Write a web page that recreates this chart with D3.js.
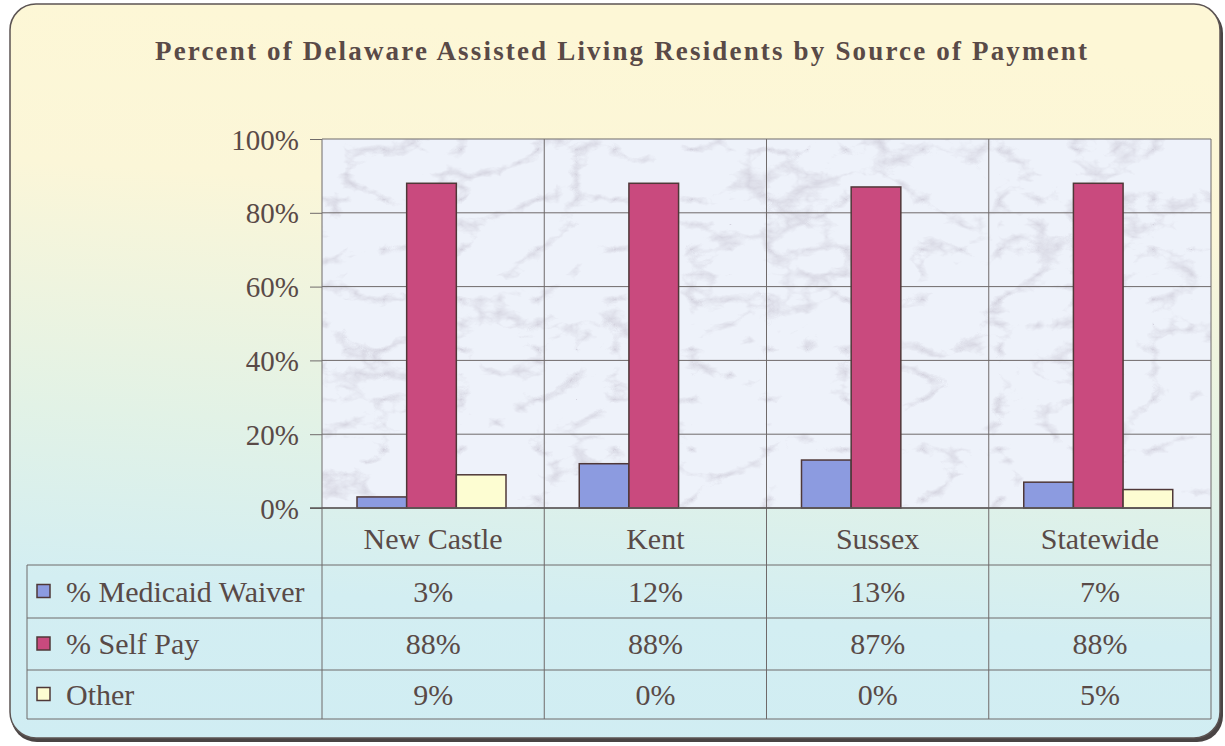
<!DOCTYPE html>
<html>
<head>
<meta charset="utf-8">
<script src="https://cdn.jsdelivr.net/npm/d3@7"></script>
<style>
  html, body { margin: 0; padding: 0; background: #ffffff; }
  svg { display: block; }
  text { font-family: "Liberation Serif", "Times New Roman", serif; fill: #594a47; }
</style>
</head>
<body>
<svg id="chart" width="1225" height="746"></svg>
<script>
// data
var categories = ["New Castle", "Kent", "Sussex", "Statewide"];
var seriesNames = ["% Medicaid Waiver", "% Self Pay", "Other"];
var medicaidWaiver = [3, 12, 13, 7];
var selfPay = [88, 88, 87, 88];
var other = [9, 0, 0, 5];
var yTicks = [0, 20, 40, 60, 80, 100];
var seriesColors = ["#8c9be0", "#c94a7e", "#fdfdd2"];

var seriesValues = [medicaidWaiver, selfPay, other];

var svg = d3.select("#chart"),
    margin = {top: 139, left: 322, right: 1211, bottom: 508};

var defs = svg.append("defs");

var bg = defs.append("linearGradient")
    .attr("id", "bg")
    .attr("x1", 0.1).attr("y1", 0).attr("x2", 0).attr("y2", 1);
bg.append("stop").attr("offset", "0%").attr("stop-color", "#fdf7d6");
bg.append("stop").attr("offset", "22%").attr("stop-color", "#fbf6d8");
bg.append("stop").attr("offset", "55%").attr("stop-color", "#e2f2e6");
bg.append("stop").attr("offset", "78%").attr("stop-color", "#d3eef2");
bg.append("stop").attr("offset", "100%").attr("stop-color", "#d0edf3");

// marble-ish texture for the plot area
var marble = defs.append("filter")
    .attr("id", "marble")
    .attr("x", 0).attr("y", 0).attr("width", "100%").attr("height", "100%");
marble.append("feTurbulence")
    .attr("type", "turbulence")
    .attr("baseFrequency", "0.013 0.02")
    .attr("numOctaves", 5)
    .attr("seed", 11)
    .attr("result", "noise");
marble.append("feColorMatrix")
    .attr("in", "noise")
    .attr("type", "matrix")
    .attr("values", "0 0 0 0 0.55  0 0 0 0 0.53  0 0 0 0 0.62  -2.6 0 0 0 0.62");

// outer frame
svg.append("rect")
    .attr("x", 11).attr("y", 7)
    .attr("width", 1212).attr("height", 735)
    .attr("rx", 26)
    .attr("fill", "#4a4444");
svg.append("rect")
    .attr("x", 10).attr("y", 4)
    .attr("width", 1210).attr("height", 734)
    .attr("rx", 26)
    .attr("fill", "url(#bg)")
    .attr("stroke", "#5c5453")
    .attr("stroke-width", 1.5);

// title
svg.append("text")
    .attr("x", 621).attr("y", 60)
    .attr("text-anchor", "middle")
    .attr("textLength", 932)
    .attr("lengthAdjust", "spacing")
    .style("font-size", "27px")
    .style("font-weight", "bold")
    .text("Percent of Delaware Assisted Living Residents by Source of Payment");

var x = d3.scaleBand()
    .domain(categories)
    .range([margin.left, margin.right]);

var x1 = d3.scaleBand()
    .domain(seriesNames)
    .range([35, 184]);

var y = d3.scaleLinear()
    .domain([0, 100])
    .range([margin.bottom, margin.top]);

// plot background
var pw = margin.right - margin.left, ph = margin.bottom - margin.top;
svg.append("rect")
    .attr("x", margin.left).attr("y", margin.top)
    .attr("width", pw).attr("height", ph)
    .attr("fill", "#eef2fa");
svg.append("rect")
    .attr("x", margin.left).attr("y", margin.top)
    .attr("width", pw).attr("height", ph)
    .attr("filter", "url(#marble)");

// gridlines
svg.append("g")
    .selectAll("line")
    .data(yTicks)
    .enter().append("line")
    .attr("x1", margin.left).attr("x2", margin.right)
    .attr("y1", function(d){ return y(d); })
    .attr("y2", function(d){ return y(d); })
    .attr("stroke", "#6f6a6a")
    .attr("stroke-width", 1);

// y axis
var yAxis = d3.axisLeft(y)
    .tickValues(yTicks)
    .tickSize(12)
    .tickPadding(11)
    .tickFormat(function(d){ return d + "%"; });

var yg = svg.append("g")
    .attr("transform", "translate(" + margin.left + ",0)")
    .call(yAxis);
yg.select(".domain").remove();
yg.selectAll(".tick line").attr("stroke", "#6f6a6a");
yg.selectAll(".tick text")
    .style("font-size", "29px")
    .attr("font-family", null)
    .attr("fill", null)
    .attr("dy", "0.35em");

// table geometry
var tableLeft = 27;
var rowLines = [565, 618, 670, 719];

// vertical lines through plot and table
var vlines = categories.map(function(c){ return x(c); }).concat([margin.right]);
svg.append("g")
    .selectAll("line")
    .data(vlines)
    .enter().append("line")
    .attr("x1", function(d){ return d; })
    .attr("x2", function(d){ return d; })
    .attr("y1", margin.top)
    .attr("y2", rowLines[rowLines.length - 1])
    .attr("stroke", "#6f6a6a");

// bars
var groups = svg.append("g")
    .selectAll("g")
    .data(categories)
    .enter().append("g")
    .attr("transform", function(c){ return "translate(" + x(c) + ",0)"; });

groups.selectAll("rect")
    .data(function(c, i){
        return seriesNames.map(function(s, j){ return {series: s, value: seriesValues[j][i], color: seriesColors[j]}; });
    })
    .enter().filter(function(d){ return d.value > 0; })
    .append("rect")
    .attr("x", function(d){ return x1(d.series); })
    .attr("y", function(d){ return y(d.value); })
    .attr("width", x1.bandwidth())
    .attr("height", function(d){ return y(0) - y(d.value); })
    .attr("fill", function(d){ return d.color; })
    .attr("stroke", "#4f3838")
    .attr("stroke-width", 1.5);

// axis baseline
svg.append("line")
    .attr("x1", margin.left - 12).attr("x2", margin.right)
    .attr("y1", y(0)).attr("y2", y(0))
    .attr("stroke", "#5d5858").attr("stroke-width", 1.5);

// table horizontal lines
svg.append("g")
    .selectAll("line")
    .data(rowLines)
    .enter().append("line")
    .attr("x1", tableLeft).attr("x2", margin.right)
    .attr("y1", function(d){ return d; })
    .attr("y2", function(d){ return d; })
    .attr("stroke", "#6f6a6a");
svg.append("line")
    .attr("x1", tableLeft).attr("x2", tableLeft)
    .attr("y1", rowLines[0]).attr("y2", rowLines[rowLines.length - 1])
    .attr("stroke", "#6f6a6a");

// category labels
svg.append("g")
    .selectAll("text")
    .data(categories)
    .enter().append("text")
    .attr("x", function(c){ return x(c) + x.bandwidth() / 2; })
    .attr("y", 549)
    .attr("text-anchor", "middle")
    .style("font-size", "30px")
    .text(function(c){ return c; });

// table rows
seriesNames.forEach(function(s, j){
    var top = rowLines[j], bottom = rowLines[j + 1];
    var base = (top + bottom) / 2 + 10;
    svg.append("rect")
        .attr("x", 37).attr("y", (top + bottom) / 2 - 7)
        .attr("width", 13).attr("height", 13)
        .attr("fill", seriesColors[j])
        .attr("stroke", "#4f3838")
        .attr("stroke-width", 1.5);
    svg.append("text")
        .attr("x", 66).attr("y", base)
        .style("font-size", "30px")
        .text(s);
    svg.append("g")
        .selectAll("text")
        .data(categories)
        .enter().append("text")
        .attr("x", function(c){ return x(c) + x.bandwidth() / 2; })
        .attr("y", base)
        .attr("text-anchor", "middle")
        .style("font-size", "30px")
        .text(function(c, i){ return seriesValues[j][i] + "%"; });
});
</script>
</body>
</html>
